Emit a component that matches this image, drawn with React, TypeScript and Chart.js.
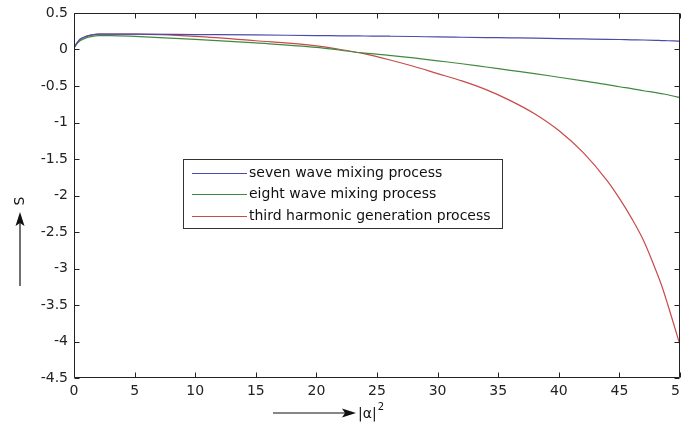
import React, { useEffect, useRef } from "react";
import { Chart, registerables } from "chart.js";

Chart.register(...registerables);

// ---- data ----
const xValues = [0, 0.25, 0.5, 1, 1.5, 2, 3, 5, 10, 15, 20, 22, 24, 26, 28, 30, 32, 34, 36, 38, 40, 42, 44, 45, 46, 47, 48, 48.5, 49, 49.5, 50];

const sevenWave = [0.02, 0.09, 0.14, 0.18, 0.2, 0.21, 0.21, 0.21, 0.205, 0.2, 0.19, 0.188, 0.185, 0.182, 0.178, 0.172, 0.168, 0.164, 0.16, 0.156, 0.15, 0.145, 0.14, 0.137, 0.133, 0.13, 0.125, 0.122, 0.12, 0.117, 0.113];

const eightWave = [0.02, 0.08, 0.12, 0.16, 0.18, 0.19, 0.19, 0.18, 0.14, 0.09, 0.03, -0.01, -0.05, -0.08, -0.115, -0.155, -0.195, -0.24, -0.285, -0.33, -0.38, -0.43, -0.48, -0.51, -0.535, -0.565, -0.59, -0.605, -0.62, -0.64, -0.66];

const thirdHarmonic = [0.02, 0.09, 0.14, 0.18, 0.2, 0.21, 0.21, 0.21, 0.18, 0.12, 0.05, 0.0, -0.06, -0.14, -0.23, -0.33, -0.43, -0.55, -0.7, -0.88, -1.11, -1.41, -1.8, -2.04, -2.31, -2.62, -3.02, -3.24, -3.5, -3.77, -4.05];

const seriesLabels = ["seven wave mixing process", "eight wave mixing process", "third harmonic generation process"];
const seriesColors = ["#4b4bab", "#3f8a3f", "#c84a4a"];

const xTicks = [0, 5, 10, 15, 20, 25, 30, 35, 40, 45, 50];
const yTicks = [0.5, 0, -0.5, -1, -1.5, -2, -2.5, -3, -3.5, -4, -4.5];

const xTitle = "|α|";
const xTitleSup = "2";
const yTitle = "S";

const FONT = "'DejaVu Sans', Arial, sans-serif";

const decorPlugin = {
  id: "decor",
  afterDatasetsDraw(chart: any) {
    const { ctx, chartArea, scales } = chart;
    const { left, top, right, bottom } = chartArea;
    const xs = scales.x;
    const ys = scales.y;
    ctx.save();
    ctx.strokeStyle = "#222";
    ctx.lineWidth = 1;
    const L = Math.round(left) + 0.5;
    const T = Math.round(top) + 0.5;
    const R = Math.round(right) - 0.5;
    const B = Math.round(bottom) - 0.5;
    ctx.beginPath();
    ctx.rect(L, T, R - L, B - T);
    ctx.stroke();
    // inward ticks
    ctx.beginPath();
    xTicks.forEach((v) => {
      const p = Math.round(xs.getPixelForValue(v)) + 0.5;
      ctx.moveTo(p, B);
      ctx.lineTo(p, B - 5);
      ctx.moveTo(p, T);
      ctx.lineTo(p, T + 5);
    });
    yTicks.forEach((v) => {
      const p = Math.round(ys.getPixelForValue(v)) + 0.5;
      ctx.moveTo(L, p);
      ctx.lineTo(L + 5, p);
      ctx.moveTo(R, p);
      ctx.lineTo(R - 5, p);
    });
    ctx.stroke();

    // legend box
    const bx = 183.5, by = 159.5, bw = 319, bh = 69;
    ctx.fillStyle = "#fff";
    ctx.fillRect(bx, by, bw, bh);
    ctx.strokeStyle = "#333";
    ctx.strokeRect(bx, by, bw, bh);
    const rows = [173, 194, 216];
    ctx.font = `14px ${FONT}`;
    ctx.textBaseline = "middle";
    ctx.textAlign = "left";
    chart.data.datasets.forEach((ds: any, i: number) => {
      ctx.strokeStyle = ds.borderColor;
      ctx.beginPath();
      ctx.moveTo(192, rows[i] + 0.5);
      ctx.lineTo(247, rows[i] + 0.5);
      ctx.stroke();
      ctx.fillStyle = "#111";
      ctx.fillText(ds.label, 249, rows[i]);
    });

    // y axis title with arrow
    ctx.strokeStyle = "#111";
    ctx.fillStyle = "#111";
    ctx.lineWidth = 1.2;
    ctx.beginPath();
    ctx.moveTo(20, 286);
    ctx.lineTo(20, 222);
    ctx.stroke();
    ctx.beginPath();
    ctx.moveTo(20, 212);
    ctx.lineTo(15.5, 226);
    ctx.lineTo(20, 223);
    ctx.lineTo(24.5, 226);
    ctx.closePath();
    ctx.fill();
    ctx.save();
    ctx.translate(20, 201);
    ctx.rotate(-Math.PI / 2);
    ctx.textAlign = "center";
    ctx.textBaseline = "middle";
    ctx.font = `14px ${FONT}`;
    ctx.fillText(yTitle, 0, 0);
    ctx.restore();

    // x axis title with arrow
    ctx.beginPath();
    ctx.moveTo(273, 413);
    ctx.lineTo(346, 413);
    ctx.stroke();
    ctx.beginPath();
    ctx.moveTo(356, 413);
    ctx.lineTo(342, 408.5);
    ctx.lineTo(345, 413);
    ctx.lineTo(342, 417.5);
    ctx.closePath();
    ctx.fill();
    ctx.textAlign = "left";
    ctx.textBaseline = "middle";
    ctx.font = `14px ${FONT}`;
    ctx.fillText(xTitle, 358, 414);
    const w = ctx.measureText(xTitle).width;
    ctx.font = `10px ${FONT}`;
    ctx.fillText(xTitleSup, 358 + w + 1, 407);
    ctx.restore();
  },
};

export default function App() {
  const ref = useRef<HTMLCanvasElement>(null);
  useEffect(() => {
    if (!ref.current) return;
    const mk = (vals: number[]) => xValues.map((x, i) => ({ x, y: vals[i] }));
    const all = [sevenWave, eightWave, thirdHarmonic];
    const chart = new Chart(ref.current, {
      type: "scatter",
      data: {
        datasets: all.map((vals, i) => ({
          label: seriesLabels[i],
          data: mk(vals),
          showLine: true,
          borderColor: seriesColors[i],
          backgroundColor: seriesColors[i],
          borderWidth: 1.2,
          pointRadius: 0,
          cubicInterpolationMode: "monotone" as const,
        })),
      },
      options: {
        responsive: false,
        animation: false,
        devicePixelRatio: 1,
        layout: { padding: { top: 13, right: 1, left: 0, bottom: 0 } },
        plugins: { legend: { display: false }, tooltip: { enabled: false } },
        scales: {
          x: {
            type: "linear",
            min: 0,
            max: 50,
            afterBuildTicks: (s: any) => {
              s.ticks = xTicks.map((v) => ({ value: v }));
            },
            afterFit: (s: any) => {
              s.height = 45;
              s.paddingLeft = 0;
              s.paddingRight = 0;
            },
            grid: { display: false, drawTicks: false },
            border: { display: false },
            ticks: {
              padding: 5,
              color: "#222",
              font: { family: FONT, size: 14 },
              maxRotation: 0,
              autoSkip: false,
              callback: (v: any) => String(v),
            },
          },
          y: {
            type: "linear",
            min: -4.5,
            max: 0.5,
            afterBuildTicks: (s: any) => {
              s.ticks = yTicks.map((v) => ({ value: v }));
            },
            afterFit: (s: any) => {
              s.width = 74;
              s.paddingTop = 0;
              s.paddingBottom = 0;
            },
            grid: { display: false, drawTicks: false },
            border: { display: false },
            ticks: {
              padding: 6,
              color: "#222",
              font: { family: FONT, size: 14 },
              autoSkip: false,
              callback: (v: any) => String(v),
            },
          },
        },
      },
      plugins: [decorPlugin],
    });
    return () => chart.destroy();
  }, []);
  return (
    <div style={{ position: "fixed", left: 0, top: 0, width: 681, height: 423, background: "#fff" }}>
      <canvas ref={ref} width={681} height={423} />
    </div>
  );
}
